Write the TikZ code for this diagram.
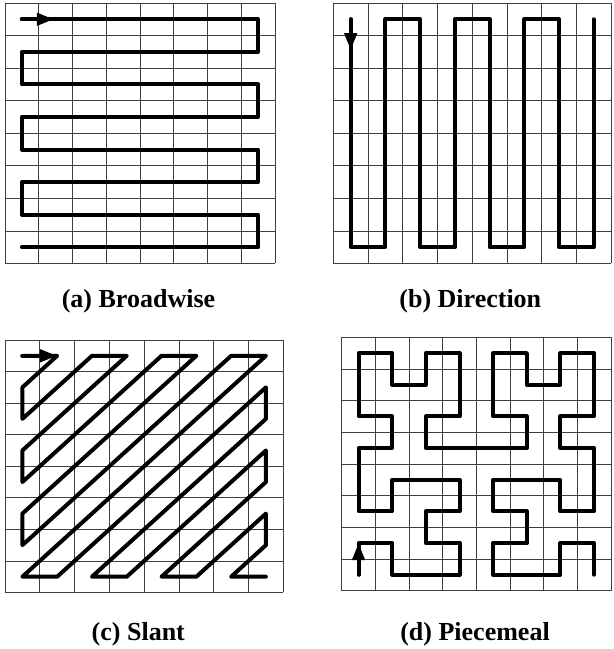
\documentclass[tikz,border=0pt]{standalone}
\usepackage{fontspec}
\setmainfont{Liberation Serif}
\usepackage{tikz}
\usetikzlibrary{arrows.meta}
\tikzstyle{cell}    = [line width=0.7bp, black!75]
\tikzstyle{route}   = [line width=4bp, line join=round, line cap=round]
\tikzstyle{heading} = [anchor=base, inner sep=0pt,
                       font=\fontsize{26bp}{30bp}\selectfont\bfseries]
\tikzstyle{arrow}   = [route, -{Triangle[length=17bp, width=12bp]}]

\begin{document}
\begin{tikzpicture}[x=1bp, y=-1bp]
  \useasboundingbox (0,0) rectangle (614,649);

  % (a) broadwise
  \begin{scope}[shift={(5,3)}, xscale=33.75, yscale=32.56]
    \foreach \i in {0,...,8} {
      \draw[cell] (\i,0) -- (\i,8);
      \draw[cell] (0,\i) -- (8,\i);
    }
    \draw[route] (0.5,0.5) -- (7.5,0.5) -- (7.5,1.5) -- (0.5,1.5) -- (0.5,2.5)
      -- (7.5,2.5) -- (7.5,3.5) -- (0.5,3.5) -- (0.5,4.5) -- (7.5,4.5)
      -- (7.5,5.5) -- (0.5,5.5) -- (0.5,6.5) -- (7.5,6.5) -- (7.5,7.5)
      -- (0.5,7.5);
    \draw[arrow] (0.5,0.5) -- (1.45,0.5);
  \end{scope}

  % (b) direction
  \begin{scope}[shift={(333.3,3)}, xscale=34.71, yscale=32.56]
    \foreach \i in {0,...,8} {
      \draw[cell] (\i,0) -- (\i,8);
      \draw[cell] (0,\i) -- (8,\i);
    }
    \draw[route] (0.5,0.5) -- (0.5,7.5) -- (1.5,7.5) -- (1.5,0.5) -- (2.5,0.5)
      -- (2.5,7.5) -- (3.5,7.5) -- (3.5,0.5) -- (4.5,0.5) -- (4.5,7.5)
      -- (5.5,7.5) -- (5.5,0.5) -- (6.5,0.5) -- (6.5,7.5) -- (7.5,7.5)
      -- (7.5,0.5);
    \draw[arrow] (0.5,0.5) -- (0.5,1.45);
  \end{scope}

  % (c) slant
  \begin{scope}[shift={(5,340)}, xscale=34.79, yscale=31.56]
    \foreach \i in {0,...,8} {
      \draw[cell] (\i,0) -- (\i,8);
      \draw[cell] (0,\i) -- (8,\i);
    }
    \draw[route] (0.5,0.5) -- (1.5,0.5) -- (0.5,1.5) -- (0.5,2.5) -- (2.5,0.5)
      -- (3.5,0.5) -- (0.5,3.5) -- (0.5,4.5) -- (4.5,0.5) -- (5.5,0.5)
      -- (0.5,5.5) -- (0.5,6.5) -- (6.5,0.5) -- (7.5,0.5) -- (0.5,7.5)
      -- (1.5,7.5) -- (7.5,1.5) -- (7.5,2.5) -- (2.5,7.5) -- (3.5,7.5)
      -- (7.5,3.5) -- (7.5,4.5) -- (4.5,7.5) -- (5.5,7.5) -- (7.5,5.5)
      -- (7.5,6.5) -- (6.5,7.5) -- (7.5,7.5);
    \draw[arrow] (0.5,0.5) -- (1.5,0.5);
  \end{scope}

  % (d) piecemeal
  \begin{scope}[shift={(341.7,337.3)}, xscale=33.66, yscale=31.65]
    \foreach \i in {0,...,8} {
      \draw[cell] (\i,0) -- (\i,8);
      \draw[cell] (0,\i) -- (8,\i);
    }
    \draw[route] (0.5,7.5) -- (0.5,6.5) -- (1.5,6.5) -- (1.5,7.5) -- (3.5,7.5)
      -- (3.5,6.5) -- (2.5,6.5) -- (2.5,5.5) -- (3.5,5.5) -- (3.5,4.5)
      -- (1.5,4.5) -- (1.5,5.5) -- (0.5,5.5) -- (0.5,3.5) -- (1.5,3.5)
      -- (1.5,2.5) -- (0.5,2.5) -- (0.5,0.5) -- (1.5,0.5) -- (1.5,1.5)
      -- (2.5,1.5) -- (2.5,0.5) -- (3.5,0.5) -- (3.5,2.5) -- (2.5,2.5)
      -- (2.5,3.5) -- (5.5,3.5) -- (5.5,2.5) -- (4.5,2.5) -- (4.5,0.5)
      -- (5.5,0.5) -- (5.5,1.5) -- (6.5,1.5) -- (6.5,0.5) -- (7.5,0.5)
      -- (7.5,2.5) -- (6.5,2.5) -- (6.5,3.5) -- (7.5,3.5) -- (7.5,5.5)
      -- (6.5,5.5) -- (6.5,4.5) -- (4.5,4.5) -- (4.5,5.5) -- (5.5,5.5)
      -- (5.5,6.5) -- (4.5,6.5) -- (4.5,7.5) -- (6.5,7.5) -- (6.5,6.5)
      -- (7.5,6.5) -- (7.5,7.5);
    \draw[arrow] (0.5,7.5) -- (0.5,6.5);
  \end{scope}

  \node[heading] (capA) at (138.5,307.5) {(a) Broadwise};
  \node[heading] (capB) at (470.3,307.5) {(b) Direction};
  \node[heading] (capC) at (138.3,640) {(c) Slant};
  \node[heading] (capD) at (475,640) {(d) Piecemeal};
\end{tikzpicture}
\end{document}
